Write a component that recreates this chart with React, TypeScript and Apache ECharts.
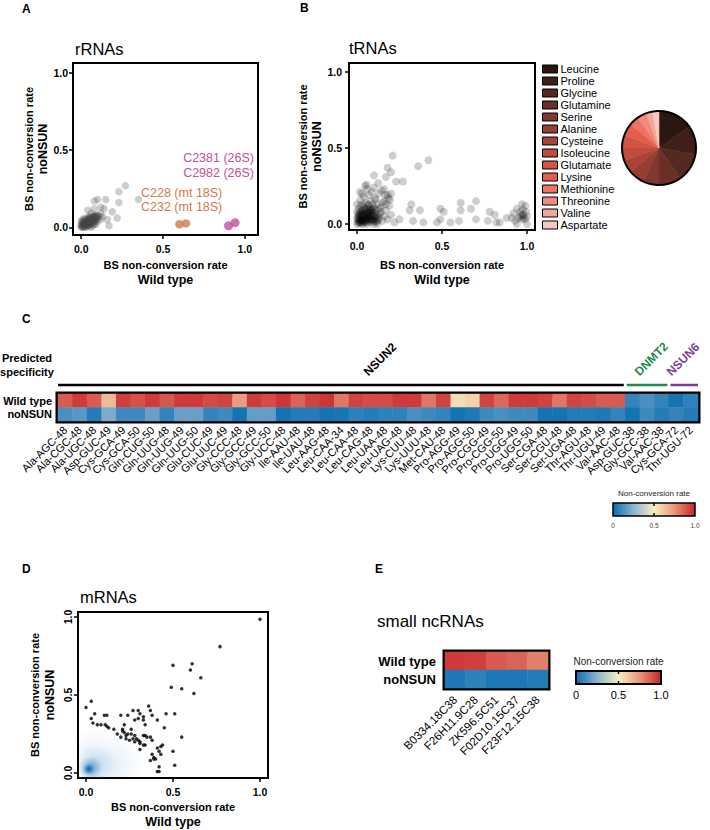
import React, { useEffect, useRef } from 'react';
import * as echarts from 'echarts';

const FONT = '"Liberation Sans", Arial, Helvetica, sans-serif';

// ---------------- Panel A : rRNAs ----------------
const rrnaOtherSites: number[][] = [
  [0.0, 0.0], [0.01, 0.01], [0.02, 0.0], [0.0, 0.02], [0.01, 0.03], [0.02, 0.02], [0.03, 0.01], [0.03, 0.03],
  [0.04, 0.02], [0.04, 0.04], [0.05, 0.03], [0.05, 0.05], [0.06, 0.04], [0.06, 0.02], [0.07, 0.05], [0.07, 0.03],
  [0.08, 0.06], [0.08, 0.04], [0.09, 0.05], [0.09, 0.07], [0.1, 0.06], [0.1, 0.08], [0.02, 0.04], [0.03, 0.05],
  [0.01, 0.05], [0.0, 0.04], [0.04, 0.06], [0.05, 0.07], [0.06, 0.06], [0.07, 0.07], [0.08, 0.08], [0.06, 0.09],
  [0.11, 0.07], [0.12, 0.09], [0.03, 0.0], [0.05, 0.01], [0.07, 0.01], [0.09, 0.02], [0.02, 0.06], [0.0, 0.01],
  [0.01, 0.0], [0.015, 0.015], [0.025, 0.025], [0.035, 0.015], [0.045, 0.035], [0.055, 0.045], [0.065, 0.055],
  [0.075, 0.065], [0.085, 0.055], [0.095, 0.075], [0.04, 0.01], [0.06, 0.0], [0.08, 0.02], [0.1, 0.04], [0.12, 0.05],
  [0.005, 0.005], [0.012, 0.02], [0.022, 0.012], [0.028, 0.035], [0.038, 0.028], [0.048, 0.018], [0.052, 0.038],
  [0.058, 0.028], [0.062, 0.048], [0.068, 0.038], [0.072, 0.058], [0.078, 0.048], [0.082, 0.068], [0.088, 0.038],
  [0.092, 0.058], [0.018, 0.032], [0.032, 0.022], [0.042, 0.048], [0.008, 0.038], [0.035, 0.04], [0.045, 0.025],
  [0.055, 0.055], [0.065, 0.045], [0.075, 0.035], [0.085, 0.07], [0.025, 0.008], [0.015, 0.025], [0.05, 0.06],
  [0.27, 0.27], [0.35, 0.18], [0.23, 0.23], [0.23, 0.16], [0.15, 0.18], [0.1, 0.18], [0.08, 0.17], [0.12, 0.13],
  [0.08, 0.12], [0.04, 0.11], [0.19, 0.1], [0.22, 0.06], [0.17, 0.01], [0.16, 0.05], [0.14, 0.12], [0.13, 0.07],
];
const rrnaMtSites: number[][] = [[0.6, 0.02], [0.64, 0.025]];
const rrna26SSites: number[][] = [[0.9, 0.01], [0.94, 0.03]];
const rrnaMtNames = ['C228 (mt 18S)', 'C232 (mt 18S)'];
const rrna26SNames = ['C2381 (26S)', 'C2982 (26S)'];

// ---------------- Panel B : tRNAs ----------------
const trnaSitesXY: number[][] = [
  [0.21, 0.45], [0.42, 0.42], [0.36, 0.38], [0.18, 0.37], [0.2, 0.34], [0.1, 0.32], [0.23, 0.28], [0.27, 0.28],
  [0.17, 0.31], [0.125, 0.27], [0.056, 0.26], [0.047, 0.25], [0.086, 0.21], [0.145, 0.22], [0.185, 0.17],
  [0.195, 0.16], [0.165, 0.19], [0.106, 0.17], [0.04, 0.18], [0.017, 0.21], [0.32, 0.13], [0.37, 0.09],
  [0.31, 0.09], [0.49, 0.1], [0.61, 0.14], [0.7, 0.15], [0.67, 0.1], [0.61, 0.09], [0.51, 0.08], [0.33, 0.02],
  [0.39, 0.01], [0.47, 0.01], [0.49, 0.03], [0.55, 0.01], [0.6, 0.02], [0.7, 0.03], [0.78, 0.08], [0.81, 0.06],
  [0.77, 0.02], [0.82, 0.01], [0.84, 0.01], [0.88, 0.04], [0.92, 0.07], [0.94, 0.1], [0.97, 0.13], [0.99, 0.12],
  [0.96, 0.08], [0.98, 0.06], [1.0, 0.05], [0.95, 0.04], [0.97, 0.03], [0.99, 0.03], [0.93, 0.02], [1.0, 0.0],
  [0.94, 0.0], [0.91, 0.04], [0.975, 0.095], [0.995, 0.08], [0.96, 0.05], [0.98, 0.04], [0.97, 0.06],
  [0.0, 0.0], [0.01, 0.02], [0.02, 0.01], [0.0, 0.04], [0.01, 0.06], [0.02, 0.03], [0.03, 0.0], [0.03, 0.05],
  [0.04, 0.02], [0.04, 0.07], [0.05, 0.01], [0.05, 0.04], [0.06, 0.06], [0.06, 0.0], [0.07, 0.03], [0.07, 0.08],
  [0.08, 0.05], [0.08, 0.01], [0.09, 0.07], [0.09, 0.03], [0.1, 0.0], [0.1, 0.05], [0.11, 0.09], [0.11, 0.02],
  [0.12, 0.06], [0.12, 0.0], [0.13, 0.04], [0.14, 0.08], [0.15, 0.02], [0.16, 0.05], [0.0, 0.08], [0.01, 0.1],
  [0.02, 0.07], [0.03, 0.09], [0.04, 0.11], [0.05, 0.08], [0.06, 0.1], [0.07, 0.12], [0.08, 0.1], [0.09, 0.13],
  [0.1, 0.11], [0.02, 0.12], [0.0, 0.13], [0.05, 0.14], [0.12, 0.13], [0.14, 0.11], [0.17, 0.09], [0.18, 0.03],
  [0.2, 0.06], [0.22, 0.01], [0.25, 0.03], [0.19, 0.12], [0.015, 0.005], [0.025, 0.025], [0.035, 0.015],
  [0.045, 0.045], [0.055, 0.025], [0.065, 0.035], [0.075, 0.055], [0.085, 0.025], [0.005, 0.03], [0.015, 0.045],
  [0.03, 0.065], [0.06, 0.045], [0.095, 0.015], [0.105, 0.035], [0.125, 0.025], [0.135, 0.065], [0.045, 0.095],
  [0.075, 0.095], [0.02, 0.16], [0.08, 0.15], [0.11, 0.16], [0.15, 0.14], [0.03, 0.2], [0.07, 0.19], [0.13, 0.2],
  [0.06, 0.23], [0.1, 0.24], [0.16, 0.23],
  [0.005, 0.01], [0.012, 0.035], [0.018, 0.015], [0.022, 0.05], [0.028, 0.02], [0.032, 0.04], [0.038, 0.005],
  [0.042, 0.03], [0.048, 0.06], [0.052, 0.015], [0.058, 0.035], [0.062, 0.075], [0.068, 0.02], [0.072, 0.045],
  [0.078, 0.07], [0.082, 0.035], [0.088, 0.09], [0.092, 0.055], [0.098, 0.025], [0.102, 0.075], [0.108, 0.05],
  [0.115, 0.015], [0.118, 0.04], [0.008, 0.055], [0.014, 0.075], [0.026, 0.085], [0.036, 0.06], [0.054, 0.1],
  [0.064, 0.065], [0.084, 0.08], [0.094, 0.1], [0.035, 0.13], [0.065, 0.13], [0.13, 0.1], [0.16, 0.15],
  [0.18, 0.19], [0.2, 0.2], [0.17, 0.13],
];
const aminoAcids = ['Leucine', 'Proline', 'Glycine', 'Glutamine', 'Serine', 'Alanine', 'Cysteine', 'Isoleucine',
  'Glutamate', 'Lysine', 'Methionine', 'Threonine', 'Valine', 'Aspartate'];
const aminoShares = [11, 9, 9, 7, 5, 5, 4, 4, 4, 4, 3, 3, 2, 2];
const aminoColors = ['#2a1712', '#3f2018', '#55291f', '#6a3026', '#80372c', '#953e31', '#aa4536', '#bf4c3c',
  '#d35442', '#e45e4b', '#ec7262', '#ef8a7c', '#f2a79c', '#f6c8c1'];

// ---------------- Panel C : tRNA heatmap ----------------
const trnaSites = ['Ala-AGC-48', 'Ala-CGC-48', 'Ala-UGC-48', 'Asp-GUC-49', 'Cys-GCA-49', 'Cys-GCA-50', 'Gln-CUG-50',
  'Gln-UUG-48', 'Gln-UUG-49', 'Gln-UUG-50', 'Glu-CUC-49', 'Glu-UUC-49', 'Gly-CCC-48', 'Gly-GCC-49', 'Gly-GCC-50',
  'Gly-UCC-48', 'Ile-AAU-48', 'Ile-UAU-48', 'Leu-AAG-48', 'Leu-CAA-34', 'Leu-CAA-48', 'Leu-CAG-48', 'Leu-UAA-48',
  'Leu-UAG-48', 'Lys-CUU-48', 'Lys-UUU-48', 'Met-CAU-48', 'Pro-AGG-49', 'Pro-AGG-50', 'Pro-CGG-49', 'Pro-CGG-50',
  'Pro-UGG-49', 'Pro-UGG-50', 'Ser-CGA-48', 'Ser-CGU-48', 'Ser-UGA-48', 'Thr-AGU-48', 'Thr-UGU-49', 'Val-AAC-48',
  'Asp-GUC-38', 'Gly-GCC-38', 'Val-AAC-38', 'Cys-GCA-72', 'Thr-UGU-72'];
const trnaWildType = [0.88, 0.95, 0.88, 0.65, 0.94, 0.9, 0.95, 0.89, 0.95, 0.95, 0.91, 0.93, 0.73, 0.95, 0.91,
  0.96, 0.86, 0.93, 0.96, 0.82, 0.93, 0.91, 0.91, 0.95, 0.95, 0.82, 0.93, 0.55, 0.58, 0.93, 0.85, 0.95, 0.95, 0.93,
  0.82, 0.93, 0.91, 0.88, 0.88, 0.08, 0.12, 0.08, 0.02, 0.07];
const trnaNoNSUN = [0.12, 0.15, 0.05, 0.22, 0.1, 0.1, 0.18, 0.08, 0.18, 0.18, 0.08, 0.1, 0.02, 0.17, 0.17, 0.02,
  0.05, 0.05, 0.02, 0.03, 0.07, 0.05, 0.07, 0.07, 0.12, 0.1, 0.08, 0.02, 0.04, 0.1, 0.12, 0.1, 0.1, 0.02, 0.02, 0.05,
  0.05, 0.04, 0.08, 0.02, 0.1, 0.05, 0.08, 0.05];
const heatRows = ['Wild type', 'noNSUN'];
const groupNames = ['NSUN2', 'DNMT2', 'NSUN6'];
const groupSizes = [39, 3, 2];

// ---------------- Panel D : mRNAs ----------------
const mrnaSites: number[][] = [
  [0.77, 0.81], [0.5, 0.69], [0.61, 0.7], [0.6, 0.66], [0.66, 0.61], [0.49, 0.55], [0.55, 0.54], [0.62, 0.51],
  [1.0, 0.985], [0.0, 0.42], [0.03, 0.46], [0.03, 0.35], [0.05, 0.38], [0.04, 0.32], [0.065, 0.31], [0.086, 0.31],
  [0.105, 0.37], [0.12, 0.37], [0.11, 0.31], [0.12, 0.3], [0.13, 0.29], [0.16, 0.28], [0.2, 0.37], [0.21, 0.28],
  [0.22, 0.31], [0.24, 0.37], [0.27, 0.4], [0.3, 0.4], [0.31, 0.38], [0.28, 0.34], [0.33, 0.36], [0.33, 0.34],
  [0.36, 0.43], [0.37, 0.4], [0.38, 0.37], [0.46, 0.38], [0.51, 0.38], [0.41, 0.34], [0.45, 0.29], [0.2, 0.23],
  [0.21, 0.27], [0.22, 0.26], [0.23, 0.22], [0.24, 0.25], [0.26, 0.25], [0.27, 0.22], [0.28, 0.24], [0.29, 0.22],
  [0.28, 0.2], [0.3, 0.21], [0.31, 0.2], [0.33, 0.24], [0.34, 0.24], [0.35, 0.23], [0.37, 0.23], [0.31, 0.15],
  [0.31, 0.19], [0.33, 0.18], [0.34, 0.18], [0.38, 0.21], [0.41, 0.16], [0.43, 0.17], [0.44, 0.18], [0.42, 0.14],
  [0.43, 0.12], [0.38, 0.12], [0.39, 0.1], [0.39, 0.09], [0.4, 0.09], [0.37, 0.08], [0.5, 0.14], [0.55, 0.23],
  [0.51, 0.05], [0.42, 0.04], [0.41, 0.01], [0.42, 0.01], [0.25, 0.21], [0.26, 0.28], [0.23, 0.24], [0.3, 0.35],
  [0.34, 0.31], [0.18, 0.25],
];
// kernel density peaks of the bulk of mRNA sites: x, y, bandwidth, weight
const densityX = [0.015, 0.025, 0.05, 0.12, 0.16, 0.025];
const densityY = [0.025, 0.03, 0.05, 0.09, 0.025, 0.14];
const densityBandwidth = [0.035, 0.07, 0.12, 0.22, 0.16, 0.13];
const densityWeight = [1.0, 0.6, 0.22, 0.07, 0.06, 0.05];

// ---------------- Panel E : small ncRNAs ----------------
const ncSites = ['B0334.18C38', 'F26H11.9C28', 'ZK596.5C51', 'F02D10.15C37', 'F23F12.15C38'];
const ncWildType = [0.95, 0.94, 0.88, 0.86, 0.8];
const ncNoNSUN = [0.04, 0.07, 0.04, 0.04, 0.05];

const rateTicks = [0, 0.5, 1];
const colorbarTicks = [0, 0.5, 1];

// ---------------- layout / style ----------------
const gA = { left: 73, top: 63, width: 185, height: 172 };
const gB = { left: 349, top: 63, width: 186, height: 167 };
const gC = { left: 58, top: 394, width: 640, height: 27 };
const gD = { left: 78, top: 612, width: 190, height: 166 };
const gE = { left: 445, top: 652, width: 103, height: 36 };
const HEAT_STOPS = ['#0a6db0', '#8fb3cf', '#f7efc3', '#e9967a', '#c8232a'];
const GROUP_COLORS = ['#000000', '#1e8a4c', '#7b3f98'];
const GROUP_LABEL_X = [370, 641, 673];

function scatterGrid(g: any) {
  return { ...g, show: true, borderColor: '#000', borderWidth: 2, backgroundColor: 'transparent', containLabel: false };
}

function richName(first: string, second: string) {
  return {
    name: `{a|${first}}\n{b|${second}}`,
    nameTextStyle: {
      rich: {
        a: { fontFamily: FONT, fontSize: 11, fontWeight: 'bold', color: '#000', lineHeight: 14 },
        b: { fontFamily: FONT, fontSize: 12.5, fontWeight: 'bold', color: '#000', lineHeight: 15 },
      },
    },
  };
}

function valueAxis(gridIndex: number, min: number, max: number, opts: any) {
  return {
    type: 'value', gridIndex, min, max,
    splitLine: { show: false },
    axisLine: { show: false, onZero: false },
    axisTick: { show: true, customValues: rateTicks, length: 4, lineStyle: { color: '#000', width: 1.5 } },
    axisLabel: {
      customValues: rateTicks, formatter: (v: number) => v.toFixed(1), color: '#000',
      fontFamily: FONT, fontWeight: 'bold', fontSize: 10.5, margin: opts.margin ?? 6, rotate: opts.rotate ?? 0,
    },
    nameLocation: 'middle',
    nameGap: opts.nameGap,
    nameRotate: opts.nameRotate,
    ...richName(opts.first, opts.second),
  };
}

function text(t: string, x: number, y: number, font: string, fill = '#000', align = 'left', vAlign = 'middle', rotation = 0) {
  return { type: 'text', x, y, rotation, z: 100, silent: true, style: { text: t, font, fill, align, verticalAlign: vAlign } };
}

function colorbar(x: number, y: number, w: number, h: number, title: string, titleSize: number, tickSize: number, tickColor: string, borderW: number) {
  const els: any[] = [];
  els.push({
    type: 'rect', z: 100, silent: true, shape: { x, y, width: w, height: h },
    style: {
      fill: new echarts.graphic.LinearGradient(0, 0, 1, 0, HEAT_STOPS.map((c, i) => ({ offset: i / (HEAT_STOPS.length - 1), color: c }))),
      stroke: '#000', lineWidth: borderW,
    },
  });
  const mx = x + w / 2;
  els.push({ type: 'line', z: 101, silent: true, shape: { x1: mx, y1: y, x2: mx, y2: y + 3 }, style: { stroke: '#000', lineWidth: 1.5 } });
  els.push({ type: 'line', z: 101, silent: true, shape: { x1: mx, y1: y + h - 3, x2: mx, y2: y + h }, style: { stroke: '#000', lineWidth: 1.5 } });
  els.push(text(title, mx, y - 10, `${titleSize}px ${FONT}`, '#222', 'center', 'middle'));
  colorbarTicks.forEach((v) => {
    els.push(text(v === 0 ? '0' : v.toFixed(1), x + w * v, y + h + 7 + tickSize / 3, `${tickSize}px ${FONT}`, tickColor, 'center', 'middle'));
  });
  return els;
}

export default function App() {
  const ref = useRef<HTMLDivElement>(null);
  useEffect(() => {
    if (!ref.current) return;
    const chart = echarts.init(ref.current, undefined, { renderer: 'svg' });

    const heatC: number[][] = [];
    trnaSites.forEach((_, i) => {
      heatC.push([i, 0, trnaWildType[i]]);
      heatC.push([i, 1, trnaNoNSUN[i]]);
    });
    const heatE: number[][] = [];
    ncSites.forEach((_, i) => {
      heatE.push([i, 0, ncWildType[i]]);
      heatE.push([i, 1, ncNoNSUN[i]]);
    });
    const density = densityX.map((x, i) => [x, densityY[i], densityBandwidth[i], densityWeight[i]]);

    // specificity group bars
    const colW = gC.width / trnaSites.length;
    const graphics: any[] = [];
    let start = 0;
    groupSizes.forEach((n, gi) => {
      const x1 = gC.left + start * colW + (gi === 0 ? 0 : 1.5);
      const x2 = gC.left + (start + n) * colW - (gi === groupSizes.length - 1 ? 0 : 1.5);
      graphics.push({ type: 'line', z: 100, silent: true, shape: { x1, y1: 385, x2, y2: 385 }, style: { stroke: GROUP_COLORS[gi], lineWidth: 2.5 } });
      graphics.push(text(groupNames[gi], GROUP_LABEL_X[gi], 378, `bold 12px ${FONT}`, GROUP_COLORS[gi], 'left', 'bottom', Math.PI / 4));
      start += n;
    });

    const option: any = {
      animation: false,
      textStyle: { fontFamily: FONT },
      grid: [
        scatterGrid(gA),
        scatterGrid(gB),
        { ...gC, show: true, borderColor: '#000', borderWidth: 5, backgroundColor: 'transparent' },
        scatterGrid(gD),
        { ...gE, show: true, borderColor: '#000', borderWidth: 5, backgroundColor: 'transparent' },
      ],
      xAxis: [
        valueAxis(0, -0.05, 1.08, { nameGap: 23, first: 'BS non-conversion rate', second: 'Wild type', margin: 8 }),
        valueAxis(1, -0.047, 1.047, { nameGap: 28, first: 'BS non-conversion rate', second: 'Wild type', margin: 10 }),
        {
          type: 'category', gridIndex: 2, data: trnaSites,
          axisLine: { show: false }, axisTick: { show: false },
          axisLabel: { interval: 0, rotate: 45, fontSize: 11, color: '#000', fontFamily: FONT, margin: 7 },
        },
        valueAxis(3, -0.046, 1.046, { nameGap: 22, first: 'BS non-conversion rate', second: 'Wild type', margin: 8 }),
        {
          type: 'category', gridIndex: 4, data: ncSites,
          axisLine: { show: false }, axisTick: { show: false },
          axisLabel: { interval: 0, rotate: 45, fontSize: 11.5, color: '#000', fontFamily: FONT, margin: 10 },
        },
      ],
      yAxis: [
        valueAxis(0, -0.05, 1.065, { nameGap: 19, nameRotate: 90, first: 'BS non-conversion rate', second: 'noNSUN', margin: 5 }),
        valueAxis(1, -0.04, 1.06, { nameGap: 24, nameRotate: 90, first: 'BS non-conversion rate', second: 'noNSUN', margin: 7 }),
        {
          type: 'category', gridIndex: 2, data: heatRows, inverse: true,
          axisLine: { show: false }, axisTick: { show: false },
          axisLabel: { interval: 0, fontSize: 11, fontWeight: 'bold', color: '#000', fontFamily: FONT, margin: 6 },
        },
        valueAxis(3, -0.032, 1.032, { nameGap: 21, nameRotate: 90, first: 'BS non-conversion rate', second: 'noNSUN', margin: 5, rotate: 90 }),
        {
          type: 'category', gridIndex: 4, data: heatRows, inverse: true,
          axisLine: { show: false }, axisTick: { show: false },
          axisLabel: { interval: 0, fontSize: 13, fontWeight: 'bold', color: '#000', fontFamily: FONT, margin: 9 },
        },
      ],
      visualMap: [{
        type: 'continuous', min: 0, max: 1, show: false, seriesIndex: [5, 8], dimension: 2,
        inRange: { color: HEAT_STOPS },
      }],
      legend: {
        orient: 'vertical', left: 542, top: 63, padding: 0, itemGap: 0, itemWidth: 15, itemHeight: 8,
        icon: 'rect', data: aminoAcids, selectedMode: false,
        itemStyle: { borderColor: '#000', borderWidth: 1 },
        textStyle: { fontSize: 11, color: '#000', fontFamily: FONT, lineHeight: 12, padding: [0, 0, 0, -2] },
      },
      series: [
        { type: 'scatter', xAxisIndex: 0, yAxisIndex: 0, data: rrnaOtherSites, symbolSize: 7.5, itemStyle: { color: 'rgba(70,70,70,0.34)' }, silent: true },
        { type: 'scatter', xAxisIndex: 0, yAxisIndex: 0, data: rrnaMtSites, symbolSize: 8.5, itemStyle: { color: '#d07a4a' }, silent: true },
        { type: 'scatter', xAxisIndex: 0, yAxisIndex: 0, data: rrna26SSites, symbolSize: 9, itemStyle: { color: '#c4509e' }, silent: true },
        { type: 'scatter', xAxisIndex: 1, yAxisIndex: 1, data: trnaSitesXY, symbolSize: 8, itemStyle: { color: 'rgba(0,0,0,0.24)' }, silent: true },
        {
          type: 'pie', center: [659, 148], radius: 37, startAngle: 90, clockwise: true, silent: true,
          label: { show: false }, labelLine: { show: false },
          data: aminoAcids.map((n, i) => ({ name: n, value: aminoShares[i], itemStyle: { color: aminoColors[i], borderColor: aminoColors[i], borderWidth: 0.6 } })),
        },
        { type: 'heatmap', xAxisIndex: 2, yAxisIndex: 2, data: heatC, silent: true, itemStyle: { borderWidth: 0 } },
        {
          type: 'custom', xAxisIndex: 3, yAxisIndex: 3, data: density, clip: true, silent: true,
          renderItem: (params: any, api: any) => {
            const p = api.coord([api.value(0), api.value(1)]);
            const r = api.size([api.value(2), api.value(2)])[0];
            const w = api.value(3);
            return {
              type: 'circle', shape: { cx: p[0], cy: p[1], r },
              style: {
                fill: new echarts.graphic.RadialGradient(0.5, 0.5, 0.5, [
                  { offset: 0, color: `rgba(8,100,176,${w})` },
                  { offset: 0.5, color: `rgba(20,110,185,${w * 0.45})` },
                  { offset: 1, color: 'rgba(30,120,190,0)' },
                ]),
              },
            };
          },
        },
        { type: 'scatter', xAxisIndex: 3, yAxisIndex: 3, data: mrnaSites, symbolSize: 3.5, itemStyle: { color: '#000' }, silent: true, z: 5 },
        { type: 'heatmap', xAxisIndex: 4, yAxisIndex: 4, data: heatE, silent: true, itemStyle: { borderWidth: 0 } },
      ],
      graphic: [
        text('A', 22, 9, `bold 12px ${FONT}`),
        text('B', 300, 8, `bold 12px ${FONT}`),
        text('C', 22, 319, `bold 12px ${FONT}`),
        text('D', 22, 569, `bold 12px ${FONT}`),
        text('E', 375, 569, `bold 12px ${FONT}`),
        text('rRNAs', 75, 49, `16.5px ${FONT}`),
        text('tRNAs', 349, 48, `16.5px ${FONT}`),
        text('mRNAs', 80, 597, `16.5px ${FONT}`),
        text('small ncRNAs', 377, 621, `17px ${FONT}`),
        text(rrna26SNames[0], 254, 158, `12.5px ${FONT}`, '#c4509e', 'right'),
        text(rrna26SNames[1], 254, 173, `12.5px ${FONT}`, '#c4509e', 'right'),
        text(rrnaMtNames[0], 141, 193, `12.5px ${FONT}`, '#d07a4a', 'left'),
        text(rrnaMtNames[1], 141, 207, `12.5px ${FONT}`, '#d07a4a', 'left'),
        text('Predicted', 27, 358, `bold 11px ${FONT}`, '#000', 'center'),
        text('specificity', 27, 372, `bold 11px ${FONT}`, '#000', 'center'),
        { type: 'circle', z: 100, silent: true, shape: { cx: 659, cy: 148, r: 37 }, style: { fill: 'none', stroke: '#000', lineWidth: 2 } },
        ...graphics,
        ...colorbar(613, 503, 82, 13, 'Non-conversion rate', 8, 6.5, '#444', 1.5),
        ...colorbar(576, 671, 85, 13, 'Non-conversion rate', 10, 11, '#000', 2),
      ],
    };
    chart.setOption(option);
    return () => chart.dispose();
  }, []);
  return <div ref={ref} style={{ position: 'absolute', left: 0, top: 0, width: 710, height: 830, background: '#fff' }} />;
}
